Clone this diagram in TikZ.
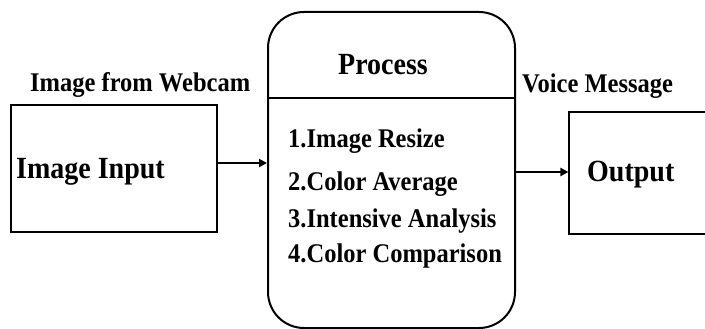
\documentclass[tikz,border=0pt]{standalone}
\usepackage{fontspec}
\setmainfont{Liberation Serif}
\usetikzlibrary{arrows.meta}
% slightly tall lettering
\newcommand{\tallrm}[1]{\scalebox{1}[1.1]{#1}}
\tikzset{
  blockbox/.style={draw, line width=1.2pt, rectangle, inner sep=0pt},
  procbox/.style={draw, line width=2pt, rectangle, rounded corners=36pt, inner sep=0pt},
  bigtext/.style={font=\fontsize{28}{32}\selectfont\bfseries, inner sep=0pt, anchor=base west},
  labeltext/.style={font=\fontsize{24.5}{28}\selectfont\bfseries, inner sep=0pt, anchor=base west},
  flow/.style={line width=2pt, -{Triangle[length=8pt,width=8pt]}}
}
\begin{document}
\begin{tikzpicture}[x=1pt,y=-1pt]
  \useasboundingbox (0,0) rectangle (705,329);

  % blocks
  \node[blockbox, minimum width=206pt, minimum height=127pt] (in) at (114,168.5) {};
  \node[procbox, minimum width=247pt, minimum height=316pt] (proc) at (391.5,170) {};
  \node[blockbox, minimum width=160pt, minimum height=122pt] (out) at (649,173) {};

  % divider under the process title
  \coordinate (div) at (0,98);
  \draw[line width=1.2pt] (div -| proc.west) -- (div -| proc.east);

  % texts
  \node[labeltext] (lblin) at (30,92) {\tallrm{Image from Webcam}};
  \node[bigtext] (txtin) at (16,178) {\tallrm{Image Input}};
  \node[bigtext, anchor=base] (txtproc) at (383,75) {\tallrm{Process}};
  \node[labeltext] (s1) at (288,147) {\tallrm{1.Image Resize}};
  \node[labeltext] (s2) at (288,190) {\tallrm{2.Color Average}};
  \node[labeltext] (s3) at (288,227) {\tallrm{3.Intensive Analysis}};
  \node[labeltext] (s4) at (288,262) {\tallrm{4.Color Comparison}};
  \node[labeltext] (lblout) at (522,93) {\tallrm{Voice Message}};
  \node[bigtext] (txtout) at (587,182) {\tallrm{Output}};

  % connectors
  \coordinate (ya) at (0,163);
  \coordinate (yb) at (0,172);
  \draw[flow] (ya -| in.east) -- (ya -| proc.west);
  \draw[flow] (yb -| proc.east) -- (yb -| out.west);
\end{tikzpicture}
\end{document}
